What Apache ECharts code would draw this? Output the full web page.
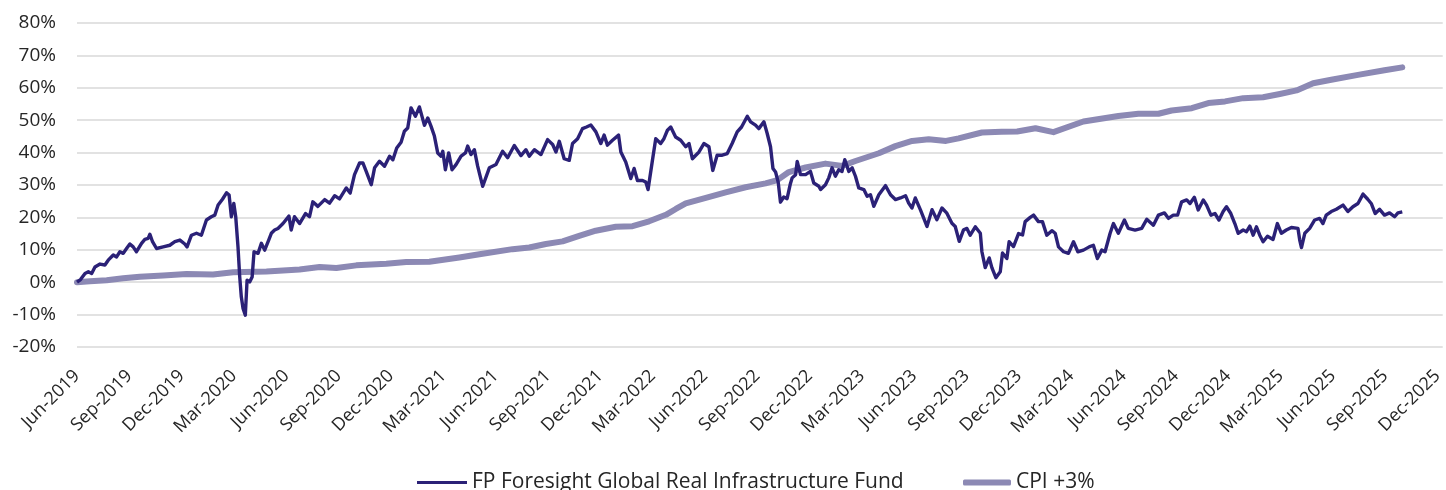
<!DOCTYPE html>
<html>
<head>
<meta charset="utf-8">
<script src="https://cdn.jsdelivr.net/npm/echarts@6/dist/echarts.min.js"></script>
<style>
html,body{margin:0;padding:0;background:#fff;}
#chart{width:1446px;height:490px;}
</style>
</head>
<body>
<div id="chart"></div>
<script>
// x positions are months elapsed since June 2019
var tickLabels = ['Jun-2019','Sep-2019','Dec-2019','Mar-2020','Jun-2020','Sep-2020','Dec-2020','Mar-2021','Jun-2021','Sep-2021','Dec-2021','Mar-2022','Jun-2022','Sep-2022','Dec-2022','Mar-2023','Jun-2023','Sep-2023','Dec-2023','Mar-2024','Jun-2024','Sep-2024','Dec-2024','Mar-2025','Jun-2025','Sep-2025','Dec-2025'];

var fundMonths = [0,0.2,0.46,0.65,0.84,1.03,1.32,1.6,1.79,2.08,2.27,2.46,2.65,2.84,3.03,3.22,3.41,3.7,3.89,4.08,4.18,4.33,4.56,4.94,5.32,5.61,5.9,6.18,6.31,6.56,6.85,7.13,7.42,7.7,7.9,8.09,8.34,8.57,8.72,8.85,8.99,9.1,9.23,9.33,9.42,9.52,9.65,9.75,9.9,10.04,10.15,10.38,10.57,10.76,10.99,11.14,11.33,11.52,11.81,12.15,12.28,12.47,12.76,13.1,13.33,13.52,13.81,14.2,14.48,14.77,15.05,15.44,15.66,15.91,16.2,16.39,16.58,16.87,17.06,17.34,17.63,17.92,18.11,18.33,18.58,18.77,18.96,19.15,19.4,19.63,19.73,19.92,20.11,20.3,20.49,20.68,20.87,20.97,21.12,21.31,21.5,21.73,22.02,22.27,22.4,22.59,22.78,22.97,23.26,23.64,24.02,24.4,24.69,25.07,25.45,25.74,25.93,26.22,26.6,26.98,27.27,27.46,27.65,27.93,28.22,28.41,28.7,28.98,29.21,29.46,29.75,30.03,30.22,30.41,30.7,31.05,31.18,31.46,31.75,31.94,32.13,32.42,32.61,32.74,32.99,33.18,33.46,33.65,33.85,34.04,34.32,34.61,34.9,35.09,35.28,35.66,35.94,36.23,36.45,36.7,36.99,37.28,37.56,37.85,38.1,38.43,38.62,38.9,39.09,39.38,39.57,39.76,39.9,40.05,40.2,40.33,40.52,40.71,40.9,41.0,41.2,41.29,41.48,41.77,42.05,42.24,42.53,42.63,42.91,43.1,43.29,43.48,43.67,43.86,44.02,44.25,44.44,44.63,44.82,45.11,45.3,45.49,45.68,45.97,46.35,46.64,46.92,47.21,47.5,47.68,47.87,48.06,48.35,48.73,49.02,49.3,49.59,49.87,50.16,50.35,50.58,50.83,51.02,51.21,51.5,51.79,51.88,52.07,52.3,52.45,52.68,52.93,53.06,53.31,53.44,53.69,53.98,54.21,54.36,54.65,54.84,55.12,55.35,55.6,55.89,56.08,56.27,56.56,56.84,57.13,57.38,57.7,58.03,58.27,58.5,58.75,58.94,59.23,59.42,59.7,60.05,60.27,60.66,61.04,61.33,61.71,62.0,62.34,62.57,62.85,63.1,63.33,63.62,63.81,64.06,64.28,64.57,64.76,65.01,65.24,65.47,65.71,65.9,66.15,66.38,66.57,66.86,67.05,67.24,67.43,67.62,67.81,68.0,68.25,68.57,68.82,69.05,69.33,69.62,70.0,70.1,70.2,70.39,70.67,70.96,71.24,71.43,71.62,71.91,72.2,72.58,72.86,73.15,73.44,73.73,74.0,74.2,74.43,74.68,74.96,75.25,75.54,75.73,75.98];
var fundValues = [0,0.8,2.7,3.2,2.7,4.7,5.6,5.3,6.8,8.4,7.8,9.4,8.9,10.4,11.8,10.9,9.4,12.0,13.2,13.5,14.8,12.5,10.4,10.9,11.4,12.5,13.0,11.8,10.9,14.5,15.1,14.5,19.2,20.2,20.7,23.8,25.6,27.6,26.9,20.2,24.3,20.2,10.9,1.6,-4.5,-8.1,-10.2,0.6,0.1,1.6,9.4,8.9,12.0,9.9,13.0,15.1,16.1,16.6,18.1,20.4,16.1,20.2,18.1,21.2,20.2,24.8,23.4,25.5,24.4,26.7,25.7,29.1,27.5,33.2,36.8,36.8,34.2,30.1,35.3,37.3,35.8,38.9,37.8,41.4,43.2,46.6,47.6,53.8,51.2,54.1,53.8,48.4,50.7,48.1,45.1,39.9,38.9,40.4,34.7,39.9,34.7,36.3,38.9,39.9,42.0,39.4,40.9,35.8,29.6,35.3,36.3,40.4,38.4,42.2,39.1,40.9,38.9,40.9,39.4,44.0,42.5,40.2,43.5,38.1,37.6,42.8,44.3,47.4,47.9,48.5,46.4,42.8,45.4,42.3,43.8,45.4,40.2,37.1,32.0,35.1,31.4,31.4,30.9,28.6,37.6,44.3,42.8,44.3,46.9,47.9,44.8,43.8,41.8,42.8,38.1,40.2,42.8,41.8,34.5,39.2,39.2,39.7,42.8,46.4,47.9,51.2,49.5,48.5,47.4,49.5,45.9,41.8,35.1,34.0,30.9,24.7,26.3,25.8,30.4,32.2,33.2,37.3,33.2,33.2,34.2,30.6,29.6,28.6,30.1,32.2,35.3,32.7,34.7,34.2,37.8,34.2,35.3,32.7,29.1,28.6,26.5,27.0,23.4,27.0,29.8,27.0,25.5,26.0,26.7,24.4,22.9,26.0,22.4,17.2,22.4,19.3,22.9,21.3,18.2,17.2,12.6,16.2,16.6,14.5,17.1,15.1,9.4,4.5,7.5,4.5,1.4,3.2,9.0,7.3,12.5,11.0,15.0,14.6,18.7,20.0,20.7,18.7,18.7,14.5,15.9,15.1,10.9,9.4,8.9,12.5,9.4,9.9,10.9,11.4,7.3,9.9,9.4,15.1,18.1,15.1,19.2,16.6,16.1,16.6,19.4,17.6,20.7,21.4,19.7,20.7,20.7,24.8,25.4,24.3,26.2,22.3,25.4,23.8,20.7,21.2,19.2,21.8,23.3,21.2,18.1,15.1,16.1,15.6,17.3,14.5,17.1,14.5,12.5,14.2,13.2,18.1,15.1,16.1,16.9,16.6,13.0,10.7,15.1,16.6,19.2,19.7,18.1,20.7,21.8,22.5,23.8,21.8,23.3,24.3,27.2,25.6,24.3,21.2,22.5,20.7,21.4,20.2,21.4,21.7];

var cpiMonths = [0,0.74,1.7,2.65,3.6,4.94,6.28,7.8,8.95,10.86,12.76,13.91,14.87,16.01,17.73,18.87,20.2,21.92,23.07,24.97,25.93,26.88,27.84,28.79,29.74,30.89,31.85,32.8,33.76,34.33,34.9,36.05,37.19,38.33,39.48,40.15,40.81,41.77,42.91,43.87,44.63,45.97,46.92,47.88,48.83,49.82,50.54,51.88,53.0,53.9,54.95,55.98,57.7,59.7,60.85,62.0,62.76,63.91,64.86,65.82,66.86,68.0,68.96,69.92,70.87,71.91,73.44,74.96,75.98];
var cpiValues = [0,0.3,0.6,1.2,1.7,2.1,2.5,2.4,3.1,3.3,3.9,4.7,4.4,5.2,5.7,6.2,6.3,7.6,8.6,10.2,10.7,11.8,12.6,14.3,15.9,17.1,17.3,18.8,20.8,22.6,24.3,26.0,27.7,29.3,30.5,31.5,34.0,35.4,36.6,35.9,37.4,39.8,42.0,43.6,44.1,43.6,44.4,46.2,46.4,46.5,47.5,46.3,49.6,51.3,52.0,52.0,53.0,53.7,55.3,55.8,56.8,57.1,58.1,59.2,61.4,62.5,64.0,65.4,66.3];

var seriesNames = ['FP Foresight Global Real Infrastructure Fund', 'CPI +3%'];

function pairs(xs, ys) {
  var out = [];
  for (var i = 0; i < xs.length; i++) out.push([xs[i], ys[i]]);
  return out;
}

var chart = echarts.init(document.getElementById('chart'), null, {renderer: 'canvas'});
var FONT = 'Open Sans';
chart.setOption({
  animation: false,
  backgroundColor: '#ffffff',
  grid: {left: 77, right: 0, top: 23, bottom: 143, containLabel: false},
  xAxis: {
    type: 'value',
    min: 0,
    max: 78.3,
    interval: 3,
    axisLine: {show: false},
    axisTick: {show: false},
    splitLine: {show: false},
    axisLabel: {
      rotate: 45,
      margin: 26,
      color: '#262626',
      fontFamily: FONT,
      fontSize: 18,
      showMaxLabel: false,
      formatter: function (v) {
        var i = Math.round(v / 3);
        if (Math.abs(v - i * 3) > 0.01) return '';
        return tickLabels[i] || '';
      }
    }
  },
  yAxis: {
    type: 'value',
    min: -20,
    max: 80,
    interval: 10,
    axisLine: {show: false},
    axisTick: {show: false},
    splitLine: {show: true, lineStyle: {color: '#d9d9d9', width: 1.5}},
    axisLabel: {
      margin: 21,
      color: '#262626',
      fontFamily: FONT,
      fontSize: 19,
      formatter: '{value}%'
    }
  },
  legend: [
    {
      data: [seriesNames[0]],
      left: 412, top: 467,
      itemWidth: 50, itemHeight: 3, itemGap: 6,
      icon: 'rect',
      textStyle: {fontFamily: FONT, fontSize: 21, color: '#262626'}
    },
    {
      data: [seriesNames[1]],
      left: 958, top: 467,
      itemWidth: 48, itemHeight: 6,
      icon: 'roundRect',
      textStyle: {fontFamily: FONT, fontSize: 21, color: '#262626'}
    }
  ],
  series: [
    {
      name: seriesNames[1],
      type: 'line',
      data: pairs(cpiMonths, cpiValues),
      showSymbol: false,
      symbol: 'none',
      z: 2,
      color: '#8c89b4',
      lineStyle: {color: '#8c89b4', width: 6, cap: 'round', join: 'round'}
    },
    {
      name: seriesNames[0],
      type: 'line',
      data: pairs(fundMonths, fundValues),
      showSymbol: false,
      symbol: 'none',
      z: 3,
      color: '#2b2177',
      lineStyle: {color: '#2b2177', width: 3.4, join: 'round'}
    }
  ]
});
</script>
</body>
</html>
